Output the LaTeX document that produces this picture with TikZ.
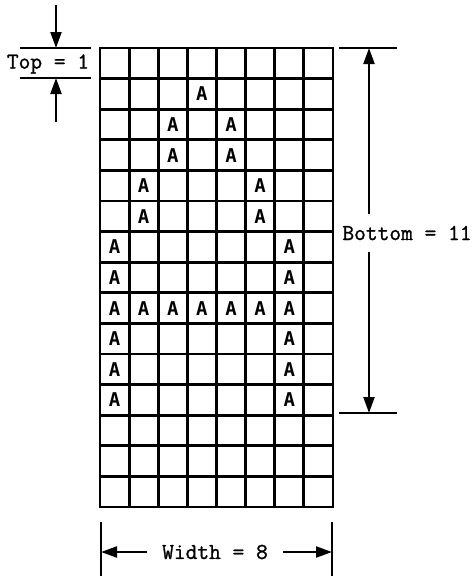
\documentclass[tikz,border=0pt]{standalone}
\usepackage{fontspec}
\usetikzlibrary{arrows.meta}
\newfontfamily\cellfont{DejaVu Sans Mono}
\newfontfamily\dimfont{Latin Modern Mono}[FakeBold=1.2]

\begin{document}
\begin{tikzpicture}[
  x=1pt, y=-1pt,
  gridline/.style={line width=2.9pt, line cap=rect},
  dimline/.style={line width=2.2pt},
  dimarrow/.style={-{Triangle[length=16pt, width=11pt]}, line width=2.2pt},
  dimlabel/.style={font=\dimfont\fontsize{22.8}{24}\selectfont, inner sep=0pt},
  cellletter/.style={font=\cellfont\bfseries\fontsize{19}{20}\selectfont, inner sep=0pt}
]
\useasboundingbox (0,0) rectangle (476,576);
\foreach \i in {0,...,8}
  \draw[gridline] (100+\i*29.125,48) -- (100+\i*29.125,507);
\foreach \j in {0,...,15}
  \draw[gridline] (100,48+\j*30.6) -- (333,48+\j*30.6);
\foreach \c/\r in {4/2, 3/3,5/3, 3/4,5/4, 2/5,6/5, 2/6,6/6, 1/7,7/7, 1/8,7/8,
                   1/9,2/9,3/9,4/9,5/9,6/9,7/9, 1/10,7/10, 1/11,7/11, 1/12,7/12}
  \node[cellletter] (a-\c-\r) at (100+\c*29.125-14.56,48+\r*30.6-15.3) {A};

\node[dimlabel] (toplabel) at (48,64) {Top = 1};
\coordinate (topupper) at (56,48);
\coordinate (toplower) at (56,78);
\coordinate (topstart) at (56,5);
\coordinate (topend) at (56,122);
\draw[dimline] (20,48) -- (91,48);
\draw[dimline] (20,78) -- (91,78);
\draw[dimarrow] (topstart) -- (topupper);
\draw[dimarrow] (topend) -- (toplower);

\node[dimlabel, minimum height=37pt] (botlabel) at (407,233) {Bottom = 11};
\coordinate (bottop) at (369,48);
\coordinate (botbase) at (369,413);
\draw[dimline] (339,48) -- (397,48);
\draw[dimline] (339,413) -- (397,413);
\draw[dimarrow] (botlabel.north -| bottop) -- (bottop);
\draw[dimarrow] (botlabel.south -| botbase) -- (botbase);

\node[dimlabel, inner xsep=15pt] (widthlabel) at (215,552) {Width = 8};
\coordinate (widthleft) at (101,552);
\coordinate (widthright) at (332,552);
\draw[dimline] (101,522) -- (101,576);
\draw[dimline] (332,522) -- (332,576);
\draw[dimarrow] (widthlabel.west) -- (widthleft);
\draw[dimarrow] (widthlabel.east) -- (widthright);
\end{tikzpicture}
\end{document}
